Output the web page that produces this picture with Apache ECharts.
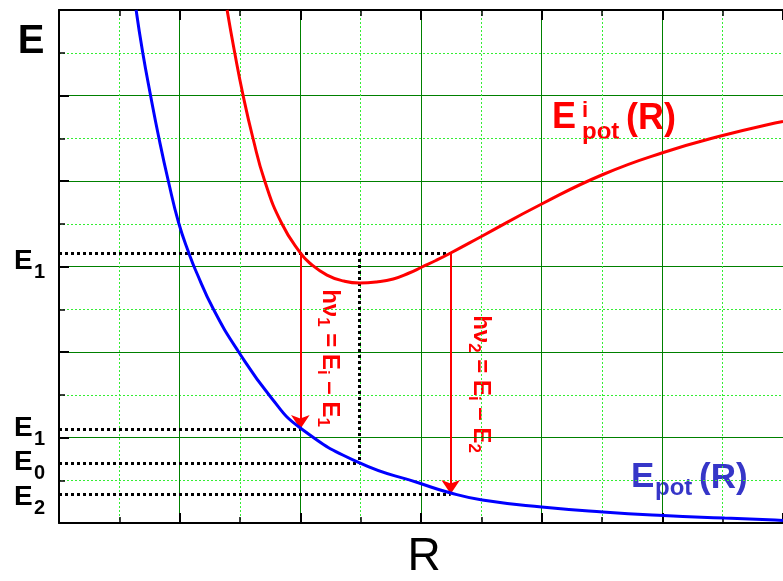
<!DOCTYPE html>
<html><head><meta charset="utf-8">
<script src="https://cdn.jsdelivr.net/npm/echarts@6/dist/echarts.min.js"></script>
<style>html,body{margin:0;padding:0;background:#fff}#c{width:783px;height:581px}</style>
</head><body><div id="c"></div>
<script>
// Ground-state potential curve E_pot(R)
const potR = [0.639,0.693,0.758,0.828,0.906,0.992,1.082,1.131,1.279,1.484,1.754,2.0,2.492,2.984,3.246,3.508,4.0,4.508,5.008,5.516,5.934,6.0];
const potE = [6.0,5.509,5.006,4.503,4.0,3.509,3.135,2.959,2.503,2.012,1.474,1.111,0.702,0.468,0.351,0.269,0.187,0.129,0.088,0.058,0.035,0.030];
// Excited potential curve E^i_pot(R)
const ionR = [1.393,1.455,1.525,1.607,1.705,1.844,2.0,2.082,2.221,2.361,2.492,2.631,2.770,2.902,3.008,3.123,3.246,3.508,4.0,4.508,5.008,5.516,5.934,6.0];
const ionE = [6.0,5.509,5.006,4.503,4.0,3.509,3.158,3.035,2.9,2.83,2.807,2.819,2.854,2.924,2.994,3.07,3.158,3.357,3.731,4.076,4.333,4.538,4.678,4.696];
// Energy levels (dotted lines) and where they end along R
const levelNames = ['E1','E1','E0','E2'];
const levelE = [3.158,1.099,0.702,0.339];
const levelEndR = [3.246,2.0,2.492,3.246];
// Equilibrium distance of the excited state (vertical dotted line)
const eqR = 2.492;
const eqFrom = 3.158, eqTo = 0.702;
// Transitions (red arrows)
const transR = [2.0,3.246];
const transFrom = [3.158,3.158];
const transTo = [1.099,0.339];
// Axis range
const axisMin = 0, axisMax = 6, axisStep = 1;

const FONT = '"Liberation Sans", Arial, sans-serif';
const zip = (a,b) => a.map((v,i)=>[v,b[i]]);

function axis(extra){
  return Object.assign({
    type:'value', min:axisMin, max:axisMax, interval:axisStep,
    axisLine:{show:true, onZero:false, lineStyle:{color:'#000', width:2}},
    axisTick:{show:true, inside:true, length:10, lineStyle:{color:'#000', width:2}},
    minorTick:{show:true, splitNumber:2, length:6, lineStyle:{color:'#000', width:1.5}},
    axisLabel:{show:false},
    splitLine:{show:true, lineStyle:{color:'#008000', width:1}},
    minorSplitLine:{show:true, lineStyle:{color:'#33ee33', width:1, type:[2,2]}}
  }, extra);
}

const dotted = levelE.map((e,i)=>({coords:[[axisMin,e],[levelEndR[i],e]]}));
dotted.push({coords:[[eqR,eqFrom],[eqR,eqTo]]});
const arrows = transR.map((r,i)=>({coords:[[r,transFrom[i]],[r,transTo[i]]]}));

// Left-hand level labels
const labelCenters = [261,428,462,497];
const graphic = [
  {type:'text', x:31, y:42, style:{text:'E', font:'bold 40px '+FONT, fill:'#000', align:'center', verticalAlign:'middle'}},
  {type:'text', x:424, y:557, style:{text:'R', font:'46px '+FONT, fill:'#000', align:'center', verticalAlign:'middle'}}
];
levelNames.forEach((n,i)=>{
  graphic.push({type:'text', x:14, y:labelCenters[i], style:{text:n[0], font:'bold 28px '+FONT, fill:'#000', align:'left', verticalAlign:'middle'}});
  graphic.push({type:'text', x:34, y:labelCenters[i]+11, style:{text:n.slice(1), font:'bold 20px '+FONT, fill:'#000', align:'left', verticalAlign:'middle'}});
});
// E^i_pot (R)
graphic.push(
  {type:'text', x:552, y:118, style:{text:'E', font:'bold 36px '+FONT, fill:'#ff0000', align:'left', verticalAlign:'middle'}},
  {type:'text', x:582, y:111, style:{text:'i', font:'bold 22px '+FONT, fill:'#ff0000', align:'left', verticalAlign:'middle'}},
  {type:'text', x:582, y:132, style:{text:'pot', font:'bold 24px '+FONT, fill:'#ff0000', align:'left', verticalAlign:'middle'}},
  {type:'text', x:626, y:119, style:{text:'(R)', font:'bold 36px '+FONT, fill:'#ff0000', align:'left', verticalAlign:'middle'}}
);
// E_pot (R)
graphic.push(
  {type:'text', x:631, y:477, style:{text:'E', font:'bold 35px '+FONT, fill:'#3636c8', align:'left', verticalAlign:'middle'}},
  {type:'text', x:655, y:488, style:{text:'pot', font:'bold 24px '+FONT, fill:'#3636c8', align:'left', verticalAlign:'middle'}},
  {type:'text', x:699, y:478, style:{text:'(R)', font:'bold 35px '+FONT, fill:'#3636c8', align:'left', verticalAlign:'middle'}}
);
// rotated transition labels
const rich = {
  m:{font:'bold 24px '+FONT, fill:'#ff0000', lineHeight:32, verticalAlign:'middle'},
  s:{font:'bold 17px '+FONT, fill:'#ff0000', lineHeight:17, verticalAlign:'bottom'}
};
graphic.push(
  {type:'text', x:330, y:358, rotation:-Math.PI/2, style:{text:'{m|hν}{s|1}{m| = E}{s|i}{m| – E}{s|1}', rich:rich, align:'center', verticalAlign:'middle'}},
  {type:'text', x:481, y:384, rotation:-Math.PI/2, style:{text:'{m|hν}{s|2}{m| = E}{s|i}{m| – E}{s|2}', rich:rich, align:'center', verticalAlign:'middle'}}
);

const chart = echarts.init(document.getElementById('c'), null, {renderer:'canvas'});
chart.setOption({
  animation:false,
  backgroundColor:'#fff',
  grid:{left:59, top:10, width:732, height:513},
  xAxis:[
    axis({position:'bottom'}),
    axis({position:'top', splitLine:{show:false}, minorSplitLine:{show:false}})
  ],
  yAxis:[axis({position:'left'})],
  series:[
    {type:'lines', coordinateSystem:'cartesian2d', z:3, silent:true,
     lineStyle:{color:'#000', width:3, type:[3,3], opacity:1}, data:dotted},
    {type:'lines', coordinateSystem:'cartesian2d', z:4, silent:true,
     symbol:['none','arrow'], symbolSize:14,
     lineStyle:{color:'#ff0000', width:2, opacity:1}, data:arrows},
    {type:'line', z:5, data:zip(potR,potE), showSymbol:false, smooth:0.5, silent:true,
     lineStyle:{color:'#0000ff', width:3}},
    {type:'line', z:5, data:zip(ionR,ionE), showSymbol:false, smooth:0.5, silent:true,
     lineStyle:{color:'#ff0000', width:3}}
  ],
  graphic:graphic
});
</script>
</body></html>
